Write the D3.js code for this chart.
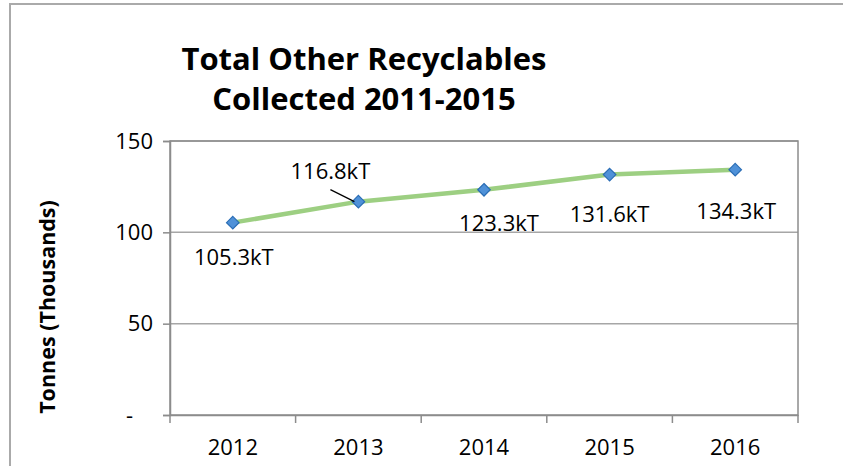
<!DOCTYPE html>
<html><head><meta charset="utf-8">
<script src="https://cdn.jsdelivr.net/npm/d3@7"></script>
<style>body{margin:0;background:#fff}svg{display:block}text{font-family:"Open Sans",sans-serif;fill:#000}</style>
</head><body>
<svg id="c" width="843" height="466"></svg>
<script>
const years = ["2012","2013","2014","2015","2016"];
const tonnes = [105.3,116.8,123.3,131.6,134.3];
const labels = ["105.3kT","116.8kT","123.3kT","131.6kT","134.3kT"];
const yTicks = [0,50,100,150];
const yTickLabels = ["-","50","100","150"];
const titleLines = ["Total Other Recyclables","Collected 2011-2015"];
const yTitle = "Tonnes (Thousands)";
// label offsets (dx, dy of text centre relative to point)
const labelOffsets = [[1,33],[-28,-32],[15,32],[0,38],[1,40]];

const svg = d3.select("#c");
const m = {l:170, r:798, t:141, b:415};
const x = d3.scaleBand().domain(years).range([m.l,m.r]).padding(0);
const y = d3.scaleLinear().domain([0,150]).range([m.b,m.t]);

// outer chart border
svg.append("path").attr("d","M10,466 V4 H843").attr("fill","none").attr("stroke","#aaa").attr("stroke-width",2);

// gridlines
svg.append("g").selectAll("line").data(yTicks.filter(d=>d>0)).join("line")
  .attr("x1",m.l).attr("x2",m.r).attr("y1",d=>y(d)).attr("y2",d=>y(d))
  .attr("stroke","#a6a6a6").attr("stroke-width",1.5);
// plot frame
svg.append("rect").attr("x",m.l).attr("y",m.t).attr("width",m.r-m.l).attr("height",m.b-m.t)
  .attr("fill","none").attr("stroke","#8c8c8c").attr("stroke-width",1.5);

// y axis
const ya = svg.append("g").attr("transform",`translate(${m.l},0)`)
  .call(d3.axisLeft(y).tickValues(yTicks).tickSize(7).tickPadding(10).tickFormat((d,i)=>yTickLabels[i]));
ya.select(".domain").attr("stroke","#8c8c8c").attr("stroke-width",1.5);
ya.selectAll(".tick line").attr("stroke","#8c8c8c").attr("stroke-width",1.5);
ya.selectAll(".tick text").style("font-family","'Open Sans',sans-serif").style("font-size","22px").attr("fill","#000")
  .attr("dx",(d)=>d===0?-20:0);

// x axis
const xa = svg.append("g").attr("transform",`translate(0,${m.b})`)
  .call(d3.axisBottom(x).tickSize(0).tickPadding(0));
xa.select(".domain").attr("stroke","#8c8c8c").attr("stroke-width",1.5);
xa.selectAll(".tick text").style("font-family","'Open Sans',sans-serif").style("font-size","22px").attr("fill","#000")
  .attr("y",40).attr("dy",0);
// category boundary ticks
const bounds = years.map(d=>x(d)).concat([m.r]);
svg.append("g").selectAll("line").data(bounds).join("line")
  .attr("x1",d=>d).attr("x2",d=>d).attr("y1",m.b).attr("y2",m.b+8)
  .attr("stroke","#8c8c8c").attr("stroke-width",1.5);

// line
const cx = d=>x(d)+x.bandwidth()/2;
const data = years.map((yr,i)=>({yr,v:tonnes[i],lab:labels[i],off:labelOffsets[i]}));
svg.append("path").datum(data)
  .attr("d",d3.line().x(d=>cx(d.yr)).y(d=>y(d.v)))
  .attr("fill","none").attr("stroke","#9dcf82").attr("stroke-width",4.5);
// markers
svg.append("g").selectAll("path").data(data).join("path")
  .attr("transform",d=>`translate(${cx(d.yr)},${y(d.v)})`)
  .attr("d",d3.symbol().type(d3.symbolDiamond2).size(100))
  .attr("fill","#4f91d8").attr("stroke","#2a6db5").attr("stroke-width",1.2);

// leader line for 2013
const p1 = data[1];
svg.append("line").attr("x1",cx(p1.yr)-28).attr("y1",y(p1.v)-12).attr("x2",cx(p1.yr)-4).attr("y2",y(p1.v))
  .attr("stroke","#000").attr("stroke-width",1.2);

// data labels
svg.append("g").selectAll("text").data(data).join("text")
  .attr("x",d=>cx(d.yr)+d.off[0]).attr("y",d=>y(d.v)+d.off[1])
  .attr("text-anchor","middle").attr("dominant-baseline","central")
  .style("font-size","22px").text(d=>d.lab);

// title
svg.append("g").selectAll("text").data(titleLines).join("text")
  .attr("x",364).attr("y",(d,i)=>70+i*40).attr("text-anchor","middle")
  .style("font-size","31px").style("font-weight","bold").text(d=>d);

// y title
svg.append("text").attr("transform","translate(55,307) rotate(-90)").attr("text-anchor","middle")
  .style("font-size","21.5px").style("font-weight","bold").text(yTitle);
</script>
</body></html>
